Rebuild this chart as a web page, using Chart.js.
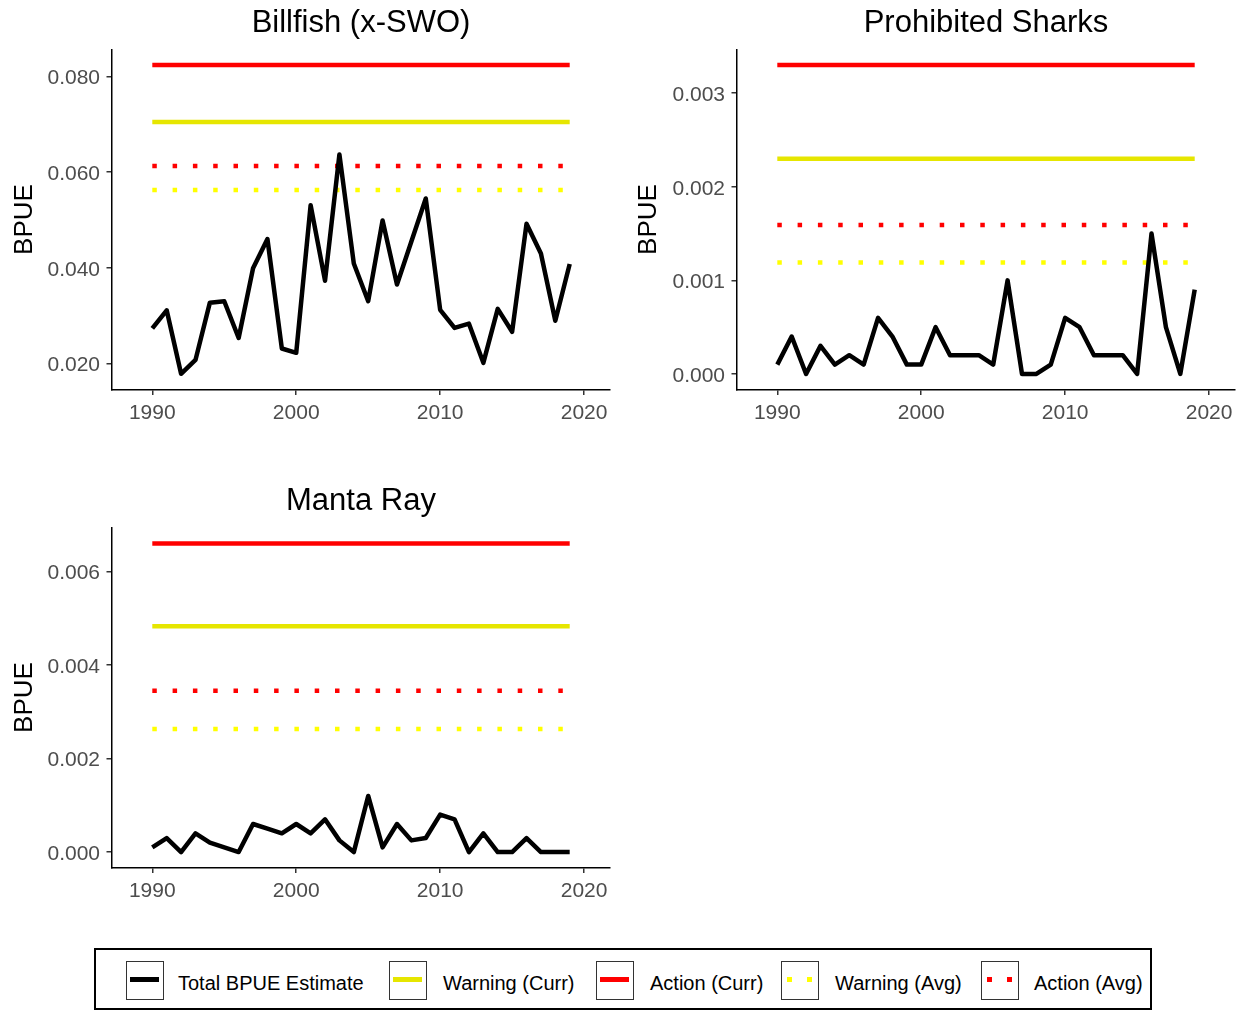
<!DOCTYPE html>
<html>
<head>
<meta charset="utf-8">
<title>BPUE by year</title>
<script src="https://cdn.jsdelivr.net/npm/chart.js@4.4.0/dist/chart.umd.min.js"></script>
<style>
  html, body { margin: 0; padding: 0; background: #fff; width: 1243px; height: 1011px; overflow: hidden;
    font-family: "Liberation Sans", Arial, sans-serif; }
  canvas.panel { position: absolute; }
  #legend { position: absolute; left: 94px; top: 948px; width: 1058px; height: 62px;
    border: 2px solid #000; box-sizing: border-box; }
  .key { position: absolute; top: 11px; width: 38px; height: 39px; border: 1.5px solid #333;
    box-sizing: border-box; }
  .key .bar { position: absolute; left: 3px; width: 29px; top: 15px; height: 4.5px; }
  .key .dot { position: absolute; top: 15px; width: 4.5px; height: 4.5px; }
  .lab { position: absolute; top: 21px; font-size: 20px; line-height: 24px; color: #000; white-space: nowrap; }
</style>
</head>
<body>
<canvas id="p1" class="panel" width="620" height="432" style="left:0px;top:0px"></canvas>
<canvas id="p2" class="panel" width="619" height="432" style="left:624px;top:0px"></canvas>
<canvas id="p3" class="panel" width="620" height="432" style="left:0px;top:478px"></canvas>
<div id="legend"></div>
<script>
// Survey years
const years = [1990, 1991, 1992, 1993, 1994, 1995, 1996, 1997, 1998, 1999,
               2000, 2001, 2002, 2003, 2004, 2005, 2006, 2007, 2008, 2009,
               2010, 2011, 2012, 2013, 2014, 2015, 2016, 2017, 2018, 2019];

// Total BPUE estimates per species group
const billfishBPUE = [0.0273, 0.0311, 0.0178, 0.0207, 0.0327, 0.0330, 0.0253, 0.0399, 0.0460, 0.0231,
                      0.0222, 0.0531, 0.0373, 0.0637, 0.0409, 0.0330, 0.0499, 0.0365, 0.0455, 0.0545,
                      0.0312, 0.0274, 0.0283, 0.0201, 0.0314, 0.0266, 0.0492, 0.0430, 0.0289, 0.0408];
const sharksBPUE   = [0.0001, 0.0004, 0.0000, 0.0003, 0.0001, 0.0002, 0.0001, 0.0006, 0.0004, 0.0001,
                      0.0001, 0.0005, 0.0002, 0.0002, 0.0002, 0.0001, 0.0010, 0.0000, 0.0000, 0.0001,
                      0.0006, 0.0005, 0.0002, 0.0002, 0.0002, 0.0000, 0.0015, 0.0005, 0.0000, 0.0009];
const mantaBPUE    = [0.0001, 0.0003, 0.0000, 0.0004, 0.0002, 0.0001, 0.0000, 0.0006, 0.0005, 0.0004,
                      0.0006, 0.0004, 0.0007, 0.00025, 0.0000, 0.0012, 0.0001, 0.0006, 0.00025, 0.0003,
                      0.0008, 0.0007, 0.0000, 0.0004, 0.0000, 0.0000, 0.0003, 0.0000, 0.0000, 0.0000];

// Panel titles and threshold levels (Billfish, Prohibited Sharks, Manta Ray)
const panelTitles  = ['Billfish (x-SWO)', 'Prohibited Sharks', 'Manta Ray'];
const actionCurr   = [0.08245, 0.0033, 0.0066];
const warningCurr  = [0.0705, 0.0023, 0.00483];
const actionAvg    = [0.0613, 0.00159, 0.00345];
const warningAvg   = [0.0563, 0.00119, 0.00263];

// Tick labels
const xTicks = [1990, 2000, 2010, 2020];
const yTicksBillfish = [0.02, 0.04, 0.06, 0.08];
const yTicksSharks   = [0.000, 0.001, 0.002, 0.003];
const yTicksManta    = [0.000, 0.002, 0.004, 0.006];

// Legend entries
const legendLabels = ['Total BPUE Estimate', 'Warning (Curr)', 'Action (Curr)', 'Warning (Avg)', 'Action (Avg)'];

const FONT = '"Liberation Sans", Arial, sans-serif';
const RED = '#ff0000';
const YELLOW_SOLID = '#e6e600';
const YELLOW_DOT = '#ffff00';
const DOTS = [4.5, 15.8];

function levelLine(level) {
  return [{ x: years[0], y: level }, { x: years[years.length - 1], y: level }];
}

function makePanel(id, idx, values, yTicks, yMin, yMax, yAxisWidth, rightPad) {
  const series = years.map((yr, i) => ({ x: yr, y: values[i] }));
  const common = { pointRadius: 0, borderWidth: 4.5, fill: false, tension: 0, borderCapStyle: 'butt' };
  return new Chart(document.getElementById(id), {
    type: 'line',
    data: {
      datasets: [
        Object.assign({ label: legendLabels[0], data: series, borderColor: '#000', borderJoinStyle: 'round' }, common),
        Object.assign({ label: legendLabels[1], data: levelLine(warningCurr[idx]), borderColor: YELLOW_SOLID }, common),
        Object.assign({ label: legendLabels[2], data: levelLine(actionCurr[idx]), borderColor: RED }, common),
        Object.assign({ label: legendLabels[3], data: levelLine(warningAvg[idx]), borderColor: YELLOW_DOT, borderDash: DOTS }, common),
        Object.assign({ label: legendLabels[4], data: levelLine(actionAvg[idx]), borderColor: RED, borderDash: DOTS }, common)
      ]
    },
    options: {
      responsive: false,
      animation: false,
      events: [],
      layout: { padding: { left: 0, right: rightPad, top: 0, bottom: 0 } },
      plugins: {
        legend: { display: false },
        tooltip: { enabled: false },
        title: {
          display: true, text: panelTitles[idx], fullSize: false, color: '#000',
          font: { family: FONT, size: 31, weight: 'normal' },
          padding: { top: 4.4, bottom: 7.9 }
        }
      },
      scales: {
        x: {
          type: 'linear', min: 1987.2, max: 2021.8,
          afterBuildTicks: s => { s.ticks = xTicks.map(v => ({ value: v })); },
          afterFit: s => { s.height = 42.5; },
          border: { display: true, color: '#000', width: 1.5 },
          grid: { display: true, drawOnChartArea: false, drawTicks: true, tickLength: 5.5, color: '#333', lineWidth: 1.5 },
          ticks: { color: '#4d4d4d', padding: 5.4, maxRotation: 0, autoSkip: false,
                   font: { family: FONT, size: 21 }, callback: v => String(v) }
        },
        y: {
          type: 'linear', min: yMin, max: yMax,
          afterBuildTicks: s => { s.ticks = yTicks.map(v => ({ value: v })); },
          afterFit: s => { s.width = yAxisWidth; },
          border: { display: true, color: '#000', width: 1.5 },
          grid: { display: true, drawOnChartArea: false, drawTicks: true, tickLength: 5.5, color: '#333', lineWidth: 1.5 },
          title: { display: true, text: 'BPUE', color: '#000', font: { family: FONT, size: 26 }, padding: { top: 9, bottom: 0 } },
          ticks: { color: '#4d4d4d', padding: 6.5, autoSkip: false, labelOffset: 2,
                   font: { family: FONT, size: 21 }, callback: v => Number(v).toFixed(3) }
        }
      }
    }
  });
}

makePanel('p1', 0, billfishBPUE, yTicksBillfish, 0.01452, 0.08569, 112, 10);
makePanel('p2', 1, sharksBPUE, yTicksSharks, -0.000166, 0.003466, 113, 8);
makePanel('p3', 2, mantaBPUE, yTicksManta, -0.00033, 0.00694, 112, 10);

// Legend below the panels
const legend = document.getElementById('legend');
const keyLeft  = [30, 293, 500, 685, 885];
const textLeft = [82, 347, 554, 739, 938];
const keyStyle = [
  { color: '#000', dotted: false },
  { color: YELLOW_SOLID, dotted: false },
  { color: RED, dotted: false },
  { color: YELLOW_DOT, dotted: true },
  { color: RED, dotted: true }
];
legendLabels.forEach((txt, i) => {
  const key = document.createElement('div');
  key.className = 'key';
  key.style.left = keyLeft[i] + 'px';
  if (keyStyle[i].dotted) {
    [5, 25].forEach(x => {
      const d = document.createElement('div');
      d.className = 'dot';
      d.style.left = x + 'px';
      d.style.background = keyStyle[i].color;
      key.appendChild(d);
    });
  } else {
    const b = document.createElement('div');
    b.className = 'bar';
    b.style.background = keyStyle[i].color;
    key.appendChild(b);
  }
  legend.appendChild(key);
  const lab = document.createElement('div');
  lab.className = 'lab';
  lab.style.left = textLeft[i] + 'px';
  lab.textContent = txt;
  legend.appendChild(lab);
});
</script>
</body>
</html>
